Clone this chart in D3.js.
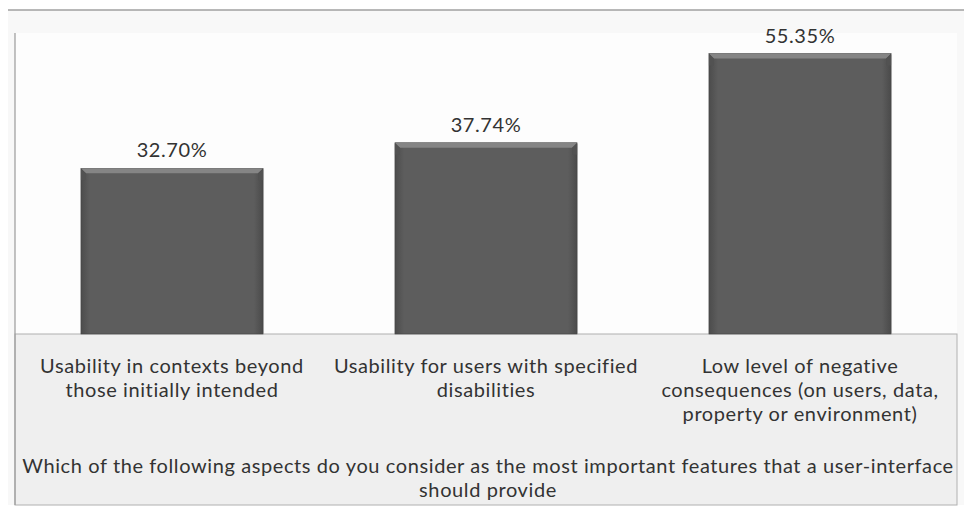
<!DOCTYPE html>
<html>
<head>
<meta charset="utf-8">
<script src="https://cdn.jsdelivr.net/npm/d3@7"></script>
<style>
  body { margin: 0; background: #fff; }
  svg { display: block; font-family: Lato, "Open Sans", sans-serif; }
</style>
</head>
<body>
<div id="viz"></div>
<script>
const categories = [
  ["Usability in contexts beyond", "those initially intended"],
  ["Usability for users with specified", "disabilities"],
  ["Low level of negative", "consequences (on users, data,", "property or environment)"]
];
const values = [32.70, 37.74, 55.35];
const valueLabels = ["32.70%", "37.74%", "55.35%"];
const titleLines = [
  "Which of the following aspects do you consider as the most important features that a user-interface",
  "should provide"
];

const W = 964, H = 513;
const plotL = 15, plotR = 957, plotT = 33, base = 334, plotB = 505;
const fs = 20, ls = 0.6;

const svg = d3.select("#viz").append("svg")
  .attr("width", W)
  .attr("height", H);

const defs = svg.append("defs");
const grad = defs.append("linearGradient").attr("id", "barFill")
  .attr("x1", 0).attr("x2", 1).attr("y1", 0).attr("y2", 0);
grad.append("stop").attr("offset", "0%").attr("stop-color", "#4c4c4c");
grad.append("stop").attr("offset", "5%").attr("stop-color", "#5d5d5d");
grad.append("stop").attr("offset", "95%").attr("stop-color", "#5d5d5d");
grad.append("stop").attr("offset", "100%").attr("stop-color", "#4a4a4a");

// outer background and frame
svg.append("rect").attr("x", 0).attr("y", 0).attr("width", W).attr("height", H).attr("fill", "#ffffff");
svg.append("rect").attr("x", 8).attr("y", 10).attr("width", W - 8).attr("height", plotB - 10).attr("fill", "#f8f8f8");
svg.append("line").attr("x1", 8).attr("x2", W).attr("y1", 10).attr("y2", 10)
  .attr("stroke", "#a0a0a0").attr("stroke-width", 1.5);

// plot area
svg.append("rect").attr("x", plotL).attr("y", plotT).attr("width", plotR - plotL).attr("height", base - plotT)
  .attr("fill", "#fdfdfd");

// label box
svg.append("rect").attr("x", plotL).attr("y", base).attr("width", plotR - plotL).attr("height", plotB - base)
  .attr("fill", "#efefef").attr("stroke", "#b0b0b0").attr("stroke-width", 1);

const x = d3.scaleBand()
  .domain(d3.range(values.length))
  .range([plotL, plotR])
  .paddingInner(0.42)
  .paddingOuter(0.21);

const y = d3.scaleLinear()
  .domain([0, 60])
  .range([base, 30]);

// left axis line
svg.append("line").attr("x1", plotL).attr("x2", plotL).attr("y1", plotT).attr("y2", plotB)
  .attr("stroke", "#9a9a9a").attr("stroke-width", 1.2);

const bars = svg.append("g").selectAll("g")
  .data(values)
  .join("g");

bars.append("rect")
  .attr("x", (d, i) => x(i) + 1)
  .attr("y", d => y(d) + 1)
  .attr("width", x.bandwidth())
  .attr("height", d => base - y(d))
  .attr("fill", "#cfcfcf")
  .attr("opacity", 0.6);

bars.append("rect")
  .attr("x", (d, i) => x(i))
  .attr("y", d => y(d))
  .attr("width", x.bandwidth())
  .attr("height", d => base - y(d))
  .attr("fill", "url(#barFill)")
  .attr("stroke", "#444")
  .attr("stroke-width", 0.6);

// bevel at top of bar
bars.append("path")
  .attr("d", (d, i) => {
    const x0 = x(i), x1 = x(i) + x.bandwidth(), y0 = y(d);
    return `M${x0},${y0}L${x1},${y0}L${x1 - 5},${y0 + 5}L${x0 + 5},${y0 + 5}Z`;
  })
  .attr("fill", "#858585");
bars.append("path")
  .attr("d", (d, i) => {
    const x0 = x(i), x1 = x(i) + x.bandwidth(), y0 = y(d);
    return `M${x0},${y0 + 1}L${x0 + 5},${y0 + 5}L${x0 + 5},${y0 + 12}L${x0},${y0 + 12}Z` +
           `M${x1},${y0 + 1}L${x1 - 5},${y0 + 5}L${x1 - 5},${y0 + 12}L${x1},${y0 + 12}Z`;
  })
  .attr("fill", "#525252");

// value labels
bars.append("text")
  .attr("x", (d, i) => x(i) + x.bandwidth() / 2)
  .attr("y", d => y(d) - 11)
  .attr("text-anchor", "middle")
  .attr("font-size", fs)
  .attr("letter-spacing", ls)
  .attr("fill", "#333")
  .text((d, i) => valueLabels[i]);

// category labels
const cat = svg.append("g").selectAll("text")
  .data(categories)
  .join("text")
  .attr("x", (d, i) => x(i) + x.bandwidth() / 2)
  .attr("y", 373)
  .attr("text-anchor", "middle")
  .attr("font-size", fs)
  .attr("letter-spacing", ls)
  .attr("fill", "#333");
cat.selectAll("tspan")
  .data(d => d)
  .join("tspan")
  .attr("x", function () { return d3.select(this.parentNode).attr("x"); })
  .attr("dy", (d, j) => j === 0 ? 0 : 24)
  .text(d => d);

// axis title
svg.append("text")
  .attr("text-anchor", "middle")
  .attr("font-size", fs)
  .attr("letter-spacing", ls)
  .attr("fill", "#333")
  .selectAll("tspan")
  .data(titleLines)
  .join("tspan")
  .attr("x", (plotL + plotR) / 2 + 2)
  .attr("y", (d, j) => 473 + j * 24)
  .text(d => d);
</script>
</body>
</html>
